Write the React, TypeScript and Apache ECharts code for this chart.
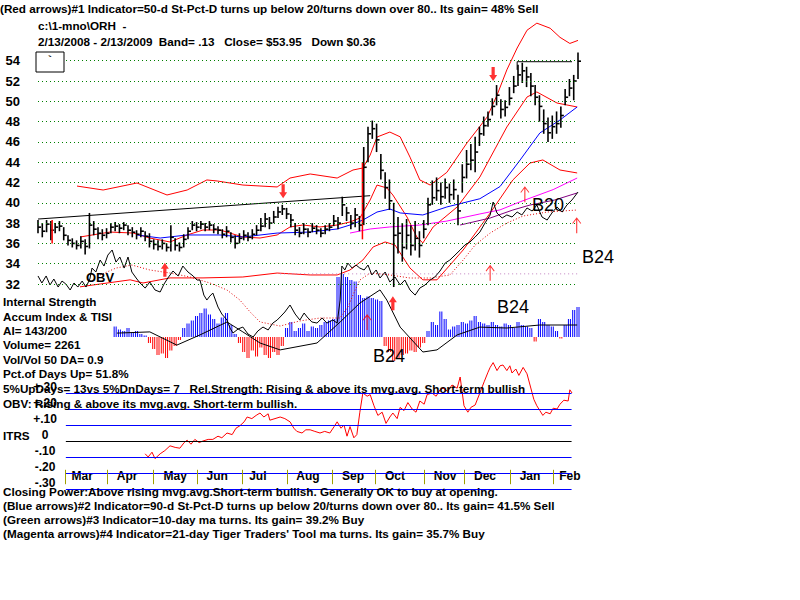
import React, { useEffect, useRef } from "react";
import * as echarts from "echarts";

const FONT = "'Liberation Sans', Arial, Helvetica, sans-serif";

// Price bars, one sample every 2 trading days (2/13/2008 .. 2/13/2009), x = sample index
const closes = [
  37.6, 37.2, 37.9, 37.3, 37.6, 37.7, 36.8, 36.3, 36.0, 35.8,
  36.2, 35.7, 37.8, 37.4, 37.0, 36.8, 37.0, 37.6, 37.7, 37.5,
  37.8, 37.3, 37.1, 36.9, 37.2, 36.7, 36.2, 35.9, 35.7, 36.0,
  35.6, 36.6, 35.8, 35.6, 36.4, 37.2, 37.8, 37.6, 37.9, 37.6,
  37.8, 37.4, 37.3, 36.9, 37.2, 36.6, 36.0, 36.5, 36.8, 36.6,
  36.9, 37.3, 37.7, 38.4, 38.0, 38.6, 39.1, 39.4, 38.9, 38.3,
  37.3, 37.0, 37.4, 37.1, 37.5, 37.3, 37.0, 37.4, 37.6, 38.2,
  38.0, 39.8, 39.0, 38.0, 38.8, 37.8, 43.5, 46.8, 47.3, 46.2,
  43.2, 41.5, 40.2, 36.8, 37.0, 35.6, 36.8, 35.8, 36.5, 35.8,
  37.4, 39.8, 40.5, 41.2, 40.6, 41.5, 40.8, 41.3, 39.2, 42.5,
  43.8, 44.2, 45.0, 46.8, 47.6, 48.2, 49.5, 50.6, 49.2, 49.4,
  50.3, 51.5, 52.6, 53.0, 52.4, 51.5, 50.4, 49.5, 47.8, 46.9,
  47.5, 47.8, 48.6, 50.4, 51.3, 52.0, 53.95,
];
const highs = [
  38.3, 38.0, 38.3, 38.2, 38.0, 38.2, 37.6, 36.8, 36.5, 36.3,
  36.7, 36.4, 39.0, 38.2, 37.6, 37.4, 37.5, 38.0, 38.1, 37.9,
  38.1, 37.8, 37.6, 37.3, 37.6, 37.2, 37.0, 36.4, 36.3, 36.4,
  36.0, 37.8, 36.5, 36.1, 36.9, 37.6, 38.2, 38.1, 38.2, 38.0,
  38.2, 37.9, 37.7, 37.4, 37.7, 37.1, 36.8, 37.0, 37.3, 37.1,
  37.4, 37.8, 38.5, 39.0, 38.6, 39.2, 39.6, 39.8, 39.5, 38.9,
  38.0, 37.6, 38.0, 37.5, 38.0, 37.8, 37.5, 37.8, 38.0, 38.8,
  38.6, 40.6, 39.6, 38.8, 39.5, 38.7, 45.5, 47.5, 48.1, 47.8,
  44.8, 43.0, 42.3, 40.0, 38.6, 38.0, 38.4, 37.8, 38.2, 37.2,
  38.3, 40.5, 42.2, 42.5, 42.0, 42.4, 41.9, 42.3, 40.8, 43.8,
  45.2, 45.8, 46.5, 47.5, 48.5, 49.0, 50.3, 51.6, 50.2, 50.1,
  51.4, 52.5, 53.6, 53.8, 53.4, 52.8, 51.6, 50.6, 49.2, 48.4,
  48.6, 49.0, 49.5, 51.2, 52.2, 52.6, 54.8,
];
const lows = [
  37.0, 36.6, 37.1, 36.3, 37.0, 37.2, 36.3, 35.8, 35.6, 35.4,
  35.5, 34.9, 35.5, 36.8, 36.4, 36.3, 36.5, 37.0, 37.2, 37.0,
  37.3, 36.8, 36.6, 36.4, 36.6, 36.2, 35.6, 35.4, 35.3, 35.4,
  35.2, 35.2, 35.3, 35.2, 35.6, 36.4, 37.3, 37.2, 37.4, 37.2,
  37.3, 37.0, 36.9, 36.5, 36.6, 36.1, 35.5, 36.0, 36.3, 36.2,
  36.4, 36.8, 37.2, 37.6, 37.4, 38.0, 38.5, 38.8, 38.4, 37.6,
  36.8, 36.6, 36.9, 36.6, 37.1, 36.9, 36.6, 36.9, 37.2, 37.7,
  37.4, 38.7, 38.2, 37.4, 37.6, 37.2, 37.8, 44.0, 46.3, 45.0,
  42.3, 40.4, 39.3, 31.7, 35.0, 34.2, 35.4, 34.8, 35.3, 34.6,
  36.5, 37.8, 39.8, 40.2, 39.8, 40.4, 40.0, 40.3, 37.8, 41.0,
  42.4, 43.2, 43.0, 45.6, 46.6, 47.5, 48.6, 49.6, 48.3, 48.5,
  49.6, 50.8, 51.5, 51.8, 51.4, 50.5, 49.6, 48.0, 46.8, 46.0,
  46.3, 46.8, 47.4, 49.6, 50.5, 50.1, 52.2,
];

const priceTicks = [32, 34, 36, 38, 40, 42, 44, 46, 48, 50, 52, 54];

const upperBand = [
  [9.1, 41.65], [15.2, 41.26], [23.1, 41.95], [30.1, 40.77], [34.8, 41.26], [39.4, 42.25],
  [41.8, 42.15], [47.8, 41.75], [55.8, 41.56], [58.8, 42.44], [63.5, 42.84], [69.8, 42.44],
  [73.5, 43.23], [75.8, 43.43], [77.5, 44.7], [79.1, 46.48], [82.1, 46.97], [84.5, 46.5],
  [86.8, 44.5], [89.1, 42.25], [91.5, 41.75], [95.4, 43.0], [100.1, 45.9], [104.8, 48.45],
  [107.1, 50.6], [109.4, 53.1], [111.8, 55.25], [114.1, 57.0], [116.4, 57.7], [119.5, 57.2],
  [121.8, 56.3], [124.1, 55.7], [126, 56.0],
];
const middleBand = [
  [9.8, 36.63], [16.8, 37.12], [22.2, 37.02], [26.1, 36.53], [30.8, 36.14], [34.8, 36.83],
  [38.5, 37.32], [42.5, 37.32], [47.8, 36.63], [51.8, 36.53], [55.8, 36.83], [58.8, 37.62],
  [61.8, 37.81], [65.8, 37.62], [69.8, 37.81], [72.8, 38.11], [75.1, 38.5], [77.5, 40.28],
  [79.1, 41.75], [81.4, 41.46], [82.8, 40.77], [86.1, 38.6], [88.4, 36.63], [89.8, 36.04],
  [92.2, 37.62], [97.8, 39.59], [103.1, 42.54], [109.4, 47.47], [114.1, 50.42], [116.4, 50.92],
  [121.1, 49.83], [125.8, 49.44],
];
const lowerBand = [
  [9.8, 31.72], [14.5, 32.0], [21.5, 32.41], [24.5, 32.1], [30.8, 32.6], [38.5, 32.6],
  [47.8, 32.69], [55.8, 33.08], [63.5, 32.89], [69.8, 32.89], [72.8, 33.38], [75.8, 34.36],
  [78.2, 35.65], [81.0, 36.14], [83.3, 35.84], [86.8, 33.57], [89.8, 32.41], [93.1, 32.41],
  [99.2, 35.35], [105.5, 38.99], [110.8, 42.25], [114.8, 43.92], [117.8, 44.22], [121.8, 43.23],
  [125.8, 42.94],
];
const blueAvg = [
  [23.1, 36.83], [28.5, 36.53], [34.8, 36.83], [42.5, 36.83], [47.8, 36.63], [55.8, 37.02],
  [63.5, 37.12], [69.8, 37.42], [72.8, 37.81], [75.8, 38.3], [79.1, 39.09], [82.1, 39.39],
  [84.5, 39.0], [89.8, 38.8], [95.4, 39.59], [103.1, 40.4], [107.8, 41.6], [112.5, 44.22],
  [117.1, 46.88], [121.8, 48.16], [125.8, 49.44],
];
const magentaAvg = [
  [72.8, 37.02], [77.5, 37.42], [82.1, 37.62], [89.1, 37.81], [95.4, 38.2], [103.1, 38.9],
  [107.8, 39.3], [112.5, 40.1], [120.2, 41.3], [125.8, 42.44],
];
const purpleLine = [
  [98.5, 37.81], [105.5, 38.5], [110.8, 39.29], [114.8, 39.78], [120.6, 40.28], [125.8, 40.97],
];
const trendLine = [[0, 38.4], [77.5, 40.7]];
const resistanceLine = [[111.8, 53.1], [111.8, 53.9], [124.6, 53.9]];
const obvZero = [[56.5, 33.0], [126, 33.0]];

const obv = [
  [0, 32.79], [0.9, 32.1], [1.9, 32.79], [2.8, 31.9], [3.7, 32.49], [4.7, 31.7], [5.6, 32.29],
  [6.5, 32.0], [7.5, 31.41], [8.4, 32.1], [9.3, 31.7], [10.3, 32.29], [11.2, 31.7], [12.1, 32.49],
  [12.6, 33.57], [13.5, 33.18], [14.5, 34.36], [15.4, 33.77], [16.3, 34.85], [17.3, 35.35],
  [18.2, 34.16], [19.1, 34.66], [20.1, 33.57], [21.0, 34.66], [21.9, 33.18], [22.9, 32.59],
  [23.8, 32.1], [25.0, 31.6], [26.1, 32.2], [27.3, 31.41], [28.5, 31.21], [29.4, 31.99],
  [30.3, 32.59], [31.5, 33.28], [32.7, 32.79], [33.8, 33.77], [35.0, 33.18], [36.2, 32.79],
  [37.1, 32.39], [37.8, 32.39], [38.7, 30.91], [39.4, 30.42], [40.1, 30.81], [40.8, 31.11],
  [42.0, 29.73], [42.9, 29.04], [44.1, 28.45], [44.8, 27.66], [45.5, 27.17], [46.7, 27.57],
  [47.8, 27.76], [49.0, 27.07], [50.2, 26.78], [51.3, 27.37], [52.5, 27.76], [53.7, 27.47],
  [54.8, 28.15], [55.8, 28.45], [56.5, 28.75], [57.6, 29.24], [58.8, 29.93], [60.0, 29.04],
  [61.1, 28.45], [62.1, 29.14], [62.8, 28.75], [63.9, 28.26], [65.1, 28.15], [66.3, 28.65],
  [67.4, 28.15], [68.8, 28.45], [69.8, 28.15], [70.5, 30.42], [70.9, 33.77], [71.6, 33.38],
  [72.3, 34.06], [73.3, 33.57], [74.2, 33.87], [75.1, 33.57], [76.1, 33.38], [77.0, 33.87],
  [77.9, 32.89], [78.9, 33.38], [79.8, 32.59], [81.0, 33.18], [82.1, 32.2], [83.3, 32.69],
  [84.5, 31.9], [85.6, 32.39], [86.8, 31.41], [88.0, 30.91], [89.1, 31.6], [90.3, 31.9],
  [91.5, 32.39], [92.6, 32.69], [93.8, 33.28], [95.0, 34.06], [96.1, 34.36], [97.3, 34.85],
  [98.5, 35.35], [99.6, 35.84], [100.8, 36.14], [102.0, 36.63], [103.1, 37.12], [104.3, 38.01],
  [105.5, 38.8], [106.2, 40.08], [107.1, 38.99], [108.3, 38.5], [109.4, 38.8], [110.6, 38.6],
  [111.8, 39.09], [112.9, 38.8], [114.1, 39.49], [115.3, 39.19], [116.4, 39.78], [117.6, 38.6],
  [118.8, 38.3], [119.9, 38.99], [121.1, 39.59], [122.3, 39.09], [123.4, 39.78], [124.6, 40.28],
  [126, 41.06],
];
const obvAvg = [
  [14.5, 32.89], [18.2, 33.57], [21.9, 33.87], [26.1, 33.38], [30.8, 33.08], [35.5, 32.69],
  [40.1, 32.1], [44.1, 31.41], [47.1, 30.42], [49.5, 29.24], [51.8, 28.26], [56.5, 27.86],
  [61.1, 28.36], [65.8, 28.65], [70.5, 28.65], [72.3, 29.73], [73.8, 31.21], [75.1, 32.39],
  [77.5, 33.08], [82.1, 32.89], [86.8, 32.59], [91.5, 32.59], [96.1, 32.89], [99.2, 34.36],
  [102.0, 35.84], [105.5, 37.02], [109.4, 38.01], [113.2, 38.7], [118.8, 39.09], [125.8, 39.29],
];

// red signal bars [index, low, high]
const signalBars = [[3.3, 36.0, 38.3], [75.7, 36.4, 44.0]];
// arrows [index, price]
const thickUp = [[29.6, 33.4], [82.8, 30.1]];
const thickDown = [[57.2, 41.15], [106.2, 52.7]];
const thinUp = [[105.5, 33.1], [113.6, 40.85], [125.7, 37.8]];

// Accumulation Index, samples 18..126
const aiStart = 18;
const aiValues = [
  0.35, 0.25, 0.2, 0.3, 0.15, 0.2, 0.1, 0.05, -0.2, -0.4,
  -0.6, -0.55, -0.7, -0.45, -0.3, -0.1, 0.3, 0.45, 0.55, 0.7,
  0.8, 0.95, 0.75, 0.6, 0.45, 0.65, 0.8, 0.4, 0.1, -0.2,
  -0.5, -0.7, -0.45, -0.65, -0.35, -0.6, -0.7, -0.5, -0.6, -0.3,
  0.3, 0.5, 0.2, 0.3, 0.45, 0.2, 0.35, 0.3, 0.4, 0.5,
  0.55, 0.6, 2.0, 2.1, 2.0, 1.9, 1.85, 1.4, 1.3, 1.35,
  1.3, 1.25, 1.2, -0.3, -0.5, -0.8, -0.7, -0.6, -0.55, -0.45,
  -0.5, -0.35, -0.2, 0.2, 0.5, 0.4, 0.85, 0.6, 0.25, 0.35,
  0.4, 0.5, 0.45, 0.55, 0.7, 0.5, 0.45, 0.4, 0.5, 0.4,
  0.35, 0.45, 0.4, 0.3, 0.5, 0.4, 0.35, 0.3, -0.15, 0.6,
  0.5, 0.4, 0.35, 0.2, -0.05, 0.4, 0.6, 0.9, 1.0,
];
const aiAvg = [
  [18.4, 0.13], [26.1, 0.17], [32.4, -0.27], [37.8, 0.07], [44.1, 0.5], [47.8, 0.17],
  [51.8, -0.2], [56.5, -0.43], [65.1, -0.2], [70.5, 0.5], [75.1, 1.13], [79.8, 1.57],
  [81.4, 1.23], [84.5, 0.33], [89.8, -0.5], [93.1, -0.43], [97.8, 0.07], [103.1, 0.33],
  [109.4, 0.3], [117.1, 0.4], [125.8, 0.4],
];
const aiBands = [1, -1];
const aiArrow = [[76.8, 0.5]];

// ITRS
const itrs = [
  [25.0, -0.08], [25.7, -0.1], [26.6, -0.07], [27.3, -0.11], [28.5, -0.08], [29.6, -0.06],
  [30.8, -0.03], [32.0, -0.04], [33.1, -0.045], [34.1, -0.01], [34.8, 0.005], [35.7, -0.02],
  [36.6, 0.01], [37.6, -0.01], [38.5, 0.0], [39.7, 0.01], [40.8, 0.01], [42.0, 0.03],
  [42.9, 0.02], [44.1, 0.05], [45.3, 0.04], [46.2, 0.08], [47.1, 0.095], [48.1, 0.12],
  [48.8, 0.15], [49.9, 0.14], [50.9, 0.16], [51.8, 0.175], [52.7, 0.15], [53.7, 0.17],
  [54.1, 0.13], [55.3, 0.14], [56.5, 0.15], [57.6, 0.14], [58.8, 0.12], [59.7, 0.08],
  [60.4, 0.06], [61.6, 0.05], [62.5, 0.07], [63.5, 0.07], [64.6, 0.06], [65.8, 0.05],
  [66.9, 0.06], [68.1, 0.05], [69.1, 0.09], [69.8, 0.12], [70.7, 0.08], [71.4, 0.1],
  [72.1, 0.03], [72.8, 0.09], [73.7, 0.02], [74.4, 0.04], [75.1, 0.18], [75.8, 0.3],
  [76.8, 0.28], [77.5, 0.29], [78.4, 0.22], [79.3, 0.16], [80.3, 0.18], [81.2, 0.11],
  [82.1, 0.15], [82.8, 0.175], [83.8, 0.14], [84.5, 0.21], [85.4, 0.19], [86.3, 0.24],
  [87.3, 0.2], [88.2, 0.18], [89.1, 0.25], [90.1, 0.23], [90.8, 0.29], [91.9, 0.3],
  [92.9, 0.28], [93.8, 0.32], [94.5, 0.33], [95.6, 0.31], [96.6, 0.35], [97.8, 0.33],
  [98.5, 0.4], [99.4, 0.22], [100.3, 0.18], [101.0, 0.21], [102.0, 0.225], [103.1, 0.3],
  [104.1, 0.37], [105.0, 0.43], [105.5, 0.46], [106.2, 0.49], [107.1, 0.44], [107.8, 0.47],
  [108.5, 0.475], [109.4, 0.44], [110.1, 0.47], [110.6, 0.425], [111.5, 0.45], [112.2, 0.41],
  [113.2, 0.46], [114.1, 0.42], [114.8, 0.35], [115.7, 0.26], [116.4, 0.22], [117.1, 0.19],
  [117.8, 0.16], [118.5, 0.18], [119.5, 0.17], [120.2, 0.205], [121.1, 0.2], [121.8, 0.23],
  [122.7, 0.255], [123.7, 0.25], [124.1, 0.32], [124.6, 0.3],
];
const itrsTicks = [-0.3, -0.2, -0.1, 0, 0.1, 0.2, 0.3];
const itrsTickLabels = ["-.30", "-.20", "-.10", "0", "+.10", "+.20", "+.30"];

const monthNames = ["Mar", "Apr", "May", "Jun", "Jul", "Aug", "Sep", "Oct", "Nov", "Dec", "Jan", "Feb"];
const monthTickIdx = [6.3, 16.1, 26.8, 37.1, 47.6, 58.1, 68.6, 78.6, 90.1, 99.4, 110.1, 120.2];
const monthMidIdx = [10.3, 20.8, 32.0, 41.8, 51.3, 63.0, 73.5, 83.3, 95.0, 104.3, 114.8, 124.1];
const monthTickSpan = [-0.18, -0.27];

const topTexts = [
  "(Red arrows)#1 Indicator=50-d St-Pct-D turns up below 20/turns down over 80.. Its gain= 48% Sell",
  "c:\\1-mno\\ORH\u00a0 -",
  "2/13/2008 - 2/13/2009\u00a0 Band= .13\u00a0\u00a0 Close= $53.95\u00a0\u00a0 Down $0.36",
];
const leftTexts = [
  "Internal Strength",
  "Accum Index & TISI",
  "AI= 143/200",
  "Volume= 2261",
  "Vol/Vol 50 DA= 0.9",
  "Pct.of Days Up= 51.8%",
  "5%UpDays= 13vs 5%DnDays= 7\u00a0\u00a0 Rel.Strength: Rising & above its mvg.avg. Short-term bullish",
  "OBV: Rising & above its mvg.avg. Short-term bullish.",
];
const bottomTexts = [
  "Closing Power:Above rising mvg.avg.Short-term bullish. Generally OK to buy at opening.",
  "(Blue arrows)#2 Indicator=90-d St-Pct-D turns up below 20/turns down over 80.. Its gain= 41.5% Sell",
  "(Green arrows)#3 Indicator=10-day ma turns. Its gain= 39.2% Buy",
  "(Magenta arrows)#4 Indicator=21-day Tiger Traders' Tool ma turns. Its gain= 35.7% Buy",
];

const THICK_ARROW = "path://M5,0 L10,6 L7,6 L7,14 L3,14 L3,6 L0,6 Z";
const THIN_ARROW = "path://M5,0 L10,6 L9.2,6.6 L5.6,2.4 L5.6,16 L4.4,16 L4.4,2.4 L0.8,6.6 L0,6 Z";

function txt(x: number, y: number, text: string, font: string) {
  return {
    type: "text",
    x,
    y,
    z: 100,
    silent: true,
    style: { text, fill: "#000", font, align: "left", verticalAlign: "middle", textAlign: "left", textVerticalAlign: "middle" },
  };
}

function lineSeries(data: number[][], color: string, extra: any = {}) {
  return {
    type: "line",
    xAxisIndex: 0,
    yAxisIndex: 0,
    data,
    symbol: "none",
    showSymbol: false,
    silent: true,
    z: 2,
    lineStyle: { color, width: 1 },
    ...extra,
  };
}

function hlcRender(color: string, width: number) {
  return (params: any, api: any) => {
    const k = api.value(0);
    const hi = api.coord([k, api.value(1)]);
    const lo = api.coord([k, api.value(2)]);
    const cl = api.coord([k, api.value(3)]);
    return {
      type: "group",
      children: [
        { type: "line", shape: { x1: hi[0], y1: hi[1], x2: lo[0], y2: lo[1] }, style: { stroke: color, lineWidth: width } },
        { type: "line", shape: { x1: cl[0], y1: cl[1], x2: cl[0] + 3, y2: cl[1] }, style: { stroke: color, lineWidth: width } },
      ],
    };
  };
}

// AI drawn as vertical 1px stripes, like the reference's hatched histogram
function stripeRender(params: any, api: any) {
  const k = api.value(0);
  const v = api.value(1);
  const top = api.coord([k, v]);
  const base = api.coord([k, 0]);
  const color = v >= 0 ? "#0000ff" : "#ff0000";
  const children: any[] = [];
  for (const dx of [-1, 1]) {
    children.push({
      type: "line",
      shape: { x1: top[0] + dx, y1: top[1], x2: top[0] + dx, y2: base[1] },
      style: { stroke: color, lineWidth: 1 },
    });
  }
  return { type: "group", children };
}

export default function App() {
  const ref = useRef<HTMLDivElement>(null);
  useEffect(() => {
    if (!ref.current) return;
    const chart = echarts.init(ref.current, null, { renderer: "svg" });
    const bold12 = `bold 11.7px ${FONT}`;
    const graphics: any[] = [];
    graphics.push(txt(0, 8, topTexts[0], bold12));
    graphics.push(txt(38, 25, topTexts[1], bold12));
    graphics.push(txt(38, 41, topTexts[2], bold12));
    const leftY = [301, 316, 330, 344, 359, 373, 388, 403];
    leftTexts.forEach((t, i) => graphics.push(txt(3, leftY[i], t, bold12)));
    graphics.push(txt(3, 435, "ITRS", bold12));
    const botY = [491, 505, 519, 533];
    bottomTexts.forEach((t, i) => graphics.push(txt(3, botY[i], t, bold12)));
    graphics.push(txt(86, 277, "OBV", `bold 13px ${FONT}`));
    graphics.push(txt(532, 205, "B20", `18px ${FONT}`));
    graphics.push(txt(582, 257, "B24", `18px ${FONT}`));
    graphics.push(txt(497, 307, "B24", `18px ${FONT}`));
    graphics.push(txt(373, 356, "B24", `18px ${FONT}`));
    graphics.push({ type: "rect", z: 90, shape: { x: 36, y: 52, width: 28, height: 20 }, style: { fill: "#fff", stroke: "#000", lineWidth: 1 } });
    graphics.push(txt(48, 58, "`", bold12));

    const option: any = {
      animation: false,
      backgroundColor: "#fff",
      graphic: graphics,
      grid: [
        { left: 38, top: 20.1, width: 540, height: 324.8 },
        { left: 38, top: 265, width: 540, height: 111 },
        { left: 38, top: 361, width: 540, height: 128 },
      ],
      xAxis: [
        { gridIndex: 0, type: "value", min: 0, max: 126, show: false },
        { gridIndex: 1, type: "value", min: 0, max: 126, show: false },
        {
          gridIndex: 2, type: "value", min: 0, max: 126,
          axisLine: { show: false }, splitLine: { show: false }, axisTick: { show: false },
          axisLabel: {
            show: true, inside: true, margin: 7, customValues: monthMidIdx,
            formatter: (v: number) => { const i = monthMidIdx.indexOf(v); return i >= 0 ? monthNames[i] : ""; },
            color: "#000", fontWeight: "bold", fontSize: 12, fontFamily: FONT,
          },
        },
      ],
      yAxis: [
        {
          gridIndex: 0, type: "value", min: 26, max: 58, interval: 2,
          axisLine: { show: false }, axisTick: { show: false }, splitLine: { show: false },
          axisLabel: { customValues: priceTicks, margin: 18, color: "#000", fontWeight: "bold", fontSize: 13, fontFamily: FONT },
        },
        { gridIndex: 1, type: "value", min: -1.3, max: 2.4, show: false },
        {
          gridIndex: 2, type: "value", min: -0.3, max: 0.5,
          axisLine: { show: false }, axisTick: { show: false }, splitLine: { show: false },
          axisLabel: {
            customValues: itrsTicks, inside: true, margin: 7, align: "center", verticalAlign: "bottom",
            formatter: (v: number) => { const i = itrsTicks.findIndex((t) => Math.abs(t - v) < 1e-6); return i >= 0 ? itrsTickLabels[i] : ""; },
            color: "#000", fontWeight: "bold", fontSize: 12, fontFamily: FONT,
          },
        },
      ],
      series: [
        lineSeries(upperBand, "#ff0000", {
          markLine: {
            silent: true, symbol: ["none", "none"], label: { show: false },
            lineStyle: { color: "#008000", type: [1, 3], width: 1 },
            data: priceTicks.map((v) => ({ yAxis: v })),
          },
        }),
        lineSeries(middleBand, "#ff0000"),
        lineSeries(lowerBand, "#ff0000"),
        lineSeries(blueAvg, "#0000ff"),
        lineSeries(magentaAvg, "#ff00ff"),
        lineSeries(purpleLine, "#800080"),
        lineSeries(trendLine, "#000000"),
        lineSeries(resistanceLine, "#000000", { z: 6 }),
        lineSeries(obvZero, "#c080c0", { lineStyle: { color: "#c080c0", width: 1, type: [1, 3] } }),
        lineSeries(obvAvg, "#ff0000", { lineStyle: { color: "#e00000", width: 1, type: [1, 2] } }),
        lineSeries(obv, "#000000"),
        {
          type: "custom", xAxisIndex: 0, yAxisIndex: 0, z: 3, silent: true,
          renderItem: hlcRender("#000", 1.6),
          encode: { x: 0, y: [1, 2, 3] },
          data: closes.map((c, i) => [i, highs[i], lows[i], c]),
        },
        {
          type: "custom", xAxisIndex: 0, yAxisIndex: 0, z: 4, silent: true,
          renderItem: (params: any, api: any) => {
            const k = api.value(0);
            const lo = api.coord([k, api.value(1)]);
            const hi = api.coord([k, api.value(2)]);
            return { type: "line", shape: { x1: hi[0], y1: hi[1], x2: lo[0], y2: lo[1] }, style: { stroke: "#ff0000", lineWidth: 1.5 } };
          },
          encode: { x: 0, y: [1, 2] },
          data: signalBars,
        },
        { type: "scatter", xAxisIndex: 0, yAxisIndex: 0, z: 5, silent: true, symbol: THICK_ARROW, symbolSize: [8, 14], itemStyle: { color: "#ff0000" }, data: thickUp },
        { type: "scatter", xAxisIndex: 0, yAxisIndex: 0, z: 5, silent: true, symbol: THICK_ARROW, symbolSize: [8, 14], symbolRotate: 180, itemStyle: { color: "#ff0000" }, data: thickDown },
        { type: "scatter", xAxisIndex: 0, yAxisIndex: 0, z: 5, silent: true, symbol: THIN_ARROW, symbolSize: [9, 16], itemStyle: { color: "#ff0000" }, data: thinUp },
        {
          type: "custom", xAxisIndex: 1, yAxisIndex: 1, silent: true, z: 1,
          renderItem: stripeRender,
          encode: { x: 0, y: 1 },
          data: aiValues.map((v, i) => [aiStart + i, v]),
          markLine: {
            silent: true, symbol: ["none", "none"], label: { show: false },
            lineStyle: { color: "#b090b0", type: [1, 3], width: 1 },
            data: aiBands.map((v) => [{ coord: [17.5, v] }, { coord: [127, v] }]),
          },
        },
        { type: "line", xAxisIndex: 1, yAxisIndex: 1, silent: true, symbol: "none", z: 2, lineStyle: { color: "#000", width: 1 }, data: aiAvg },
        { type: "scatter", xAxisIndex: 1, yAxisIndex: 1, z: 5, silent: true, symbol: THIN_ARROW, symbolSize: [9, 16], itemStyle: { color: "#ff0000" }, data: aiArrow },
        {
          type: "line", xAxisIndex: 2, yAxisIndex: 2, silent: true, symbol: "none", z: 3,
          lineStyle: { color: "#ff0000", width: 1 }, data: itrs,
          markLine: {
            silent: true, symbol: ["none", "none"], label: { show: false },
            data: [
              ...itrsTicks.map((v) => [
                { coord: [6.5, v], lineStyle: { color: v === 0 ? "#000000" : "#0000ff", width: 1, type: "solid" } },
                { coord: [124.5, v] },
              ]),
              ...monthTickIdx.map((t) => [
                { coord: [t, monthTickSpan[0]], lineStyle: { color: "#a0a000", width: 1, type: "solid" } },
                { coord: [t, monthTickSpan[1]] },
              ]),
            ],
          },
        },
      ],
    };
    chart.setOption(option);
    return () => chart.dispose();
  }, []);
  return <div ref={ref} style={{ position: "fixed", left: 0, top: 0, width: 800, height: 600, background: "#fff" }} />;
}
